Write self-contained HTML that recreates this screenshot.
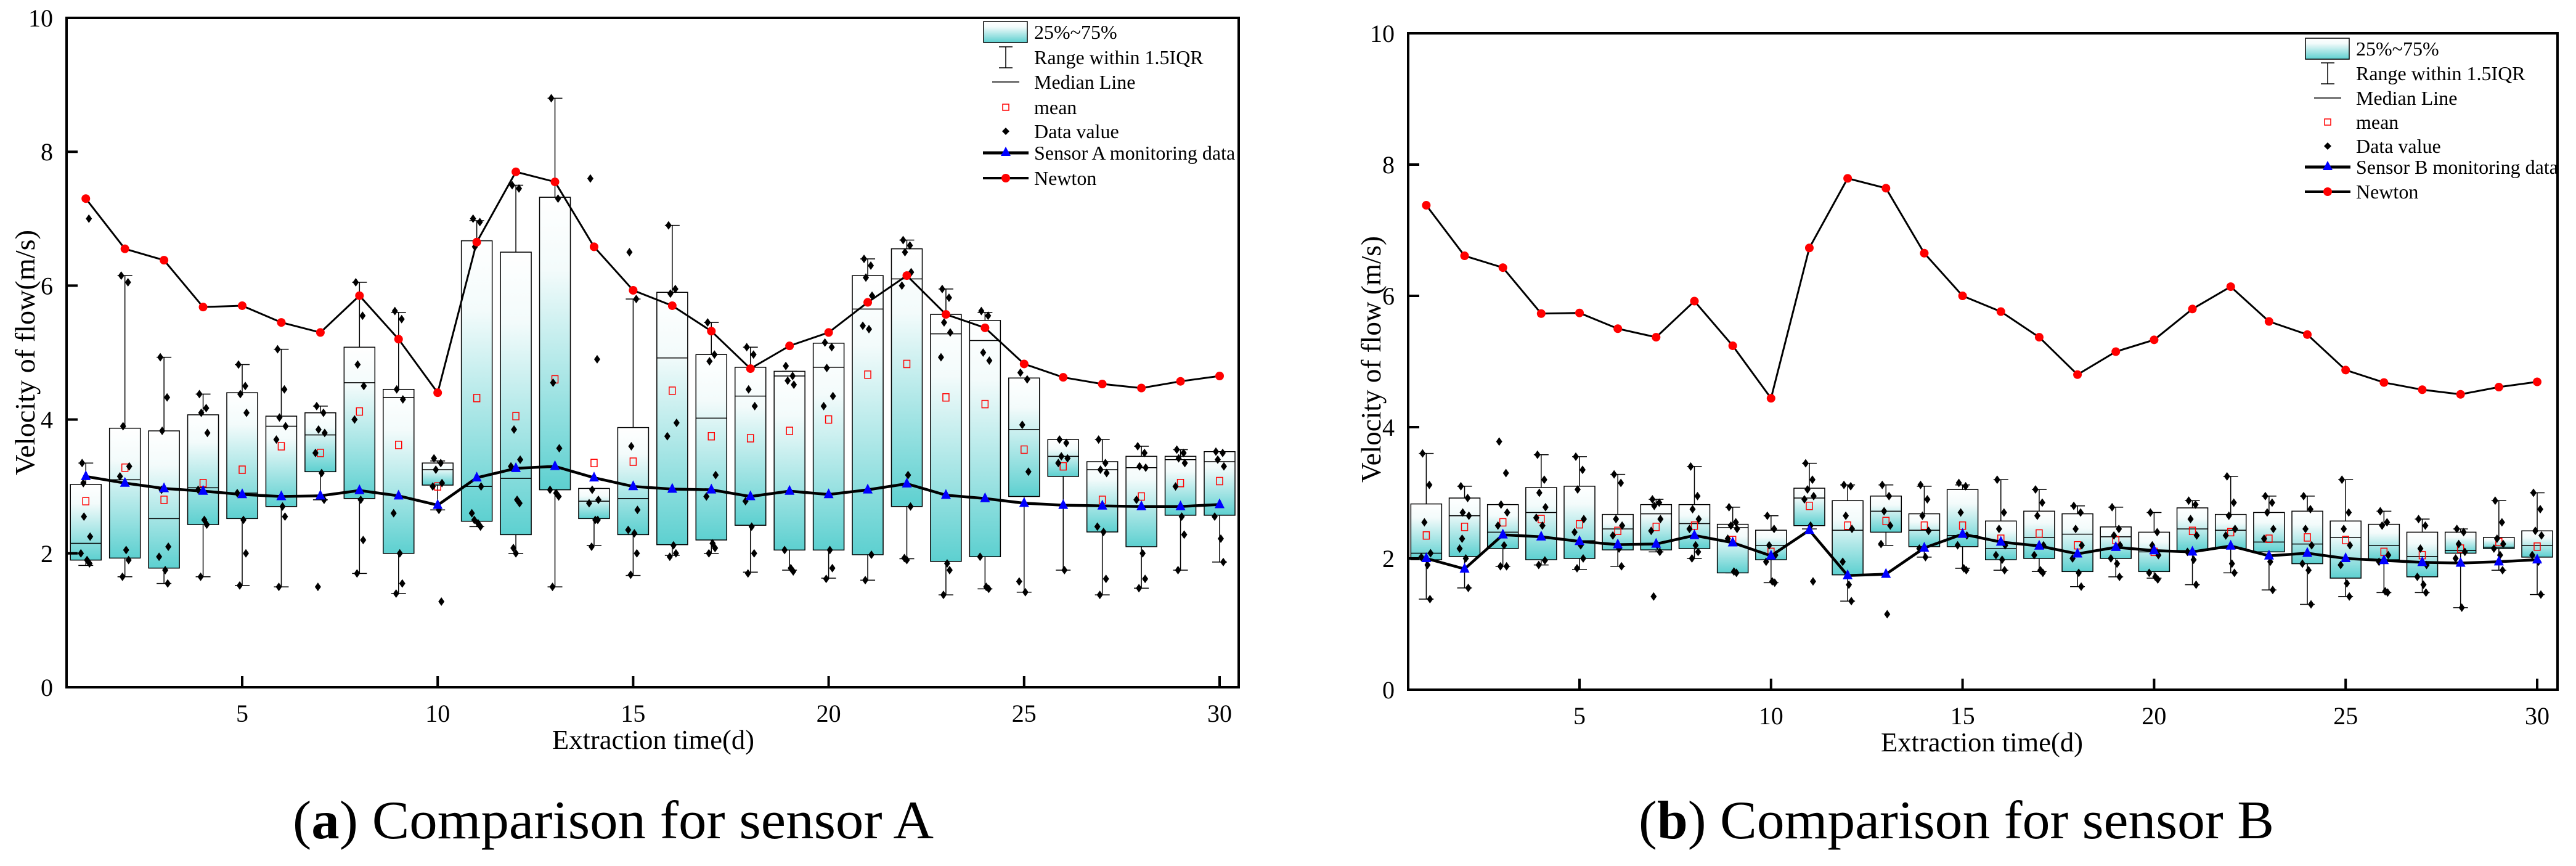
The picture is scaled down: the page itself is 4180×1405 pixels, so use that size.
<!DOCTYPE html>
<html><head><meta charset="utf-8"><style>
html,body{margin:0;padding:0;background:#fff}
svg{display:block}
text{font-family:"Liberation Serif",serif;fill:#000}
</style></head><body>
<svg id="fig" width="4180" height="1405" viewBox="0 0 4180 1405" xmlns="http://www.w3.org/2000/svg">
<defs>
<linearGradient id="boxGrad" x1="0" y1="0" x2="0" y2="1">
<stop offset="0" stop-color="#ffffff"/><stop offset="0.25" stop-color="#f3fbfb"/><stop offset="1" stop-color="#5dd0d0"/>
</linearGradient>
</defs>
</svg>
<script>
// ---- data: sensor A ----
const days = [1,2,3,4,5,6,7,8,9,10,11,12,13,14,15,16,17,18,19,20,21,22,23,24,25,26,27,28,29,30];
const xTicks = [5,10,15,20,25,30];
const yTicks = [0,2,4,6,8,10];
const newtonA = [7.3,6.55,6.38,5.68,5.7,5.45,5.3,5.85,5.2,4.4,6.65,7.7,7.55,6.58,5.93,5.7,5.32,4.76,5.1,5.3,5.75,6.15,5.57,5.37,4.83,4.63,4.53,4.47,4.57,4.65];
const sensorA = [3.15,3.05,2.97,2.93,2.88,2.85,2.86,2.94,2.86,2.72,3.13,3.27,3.3,3.13,3.0,2.96,2.95,2.85,2.93,2.88,2.95,3.04,2.87,2.82,2.75,2.72,2.71,2.70,2.70,2.73];
const q1A = [1.9,1.93,1.78,2.43,2.52,2.7,3.22,2.82,2.0,3.02,2.48,2.28,2.95,2.52,2.28,2.13,2.2,2.42,2.05,2.05,1.98,2.7,1.88,1.95,2.85,3.15,2.32,2.1,2.57,2.57];
const q3A = [3.03,3.87,3.83,4.07,4.4,4.05,4.1,5.08,4.45,3.35,6.67,6.5,7.32,2.97,3.88,5.9,4.97,4.78,4.72,5.14,6.15,6.55,5.57,5.48,4.62,3.7,3.37,3.45,3.45,3.52];
const medA = [2.15,3.1,2.52,2.98,2.9,3.9,3.77,4.55,4.33,3.25,3.0,3.12,7.32,2.78,2.82,4.92,4.02,4.35,4.65,4.78,5.65,6.1,5.28,5.18,3.85,3.45,3.25,3.28,3.4,3.37];
const meanA = [2.78,3.28,2.8,3.05,3.25,3.6,3.5,4.12,3.62,3.0,4.32,4.05,4.6,3.35,3.37,4.43,3.75,3.72,3.83,4.0,4.67,4.83,4.33,4.23,3.55,3.3,2.8,2.85,3.05,3.08];
const loA = [1.82,1.65,1.55,1.65,1.52,1.5,2.8,1.7,1.4,2.65,2.4,2.0,1.5,2.12,1.67,1.97,2.0,1.72,1.75,1.63,1.6,1.92,1.38,1.47,1.42,1.75,1.38,1.48,1.75,1.87];
const hiA = [3.35,6.15,4.93,4.38,4.82,5.05,4.2,6.05,5.6,3.38,6.97,7.5,8.8,2.97,5.8,6.9,5.45,5.08,4.72,5.14,6.4,6.68,5.95,5.6,4.62,3.7,3.7,3.6,3.55,3.52];
const dotsA = [
[3.35,7.0,2.55,2.25,2.0,1.9,1.85,3.05],[6.15,6.05,3.9,3.3,3.15,2.05,1.9,1.65],[4.93,4.33,3.83,2.1,1.95,1.75,1.55,2.95],
[4.38,4.17,4.1,3.8,2.95,2.5,2.43,1.65],[4.82,4.5,4.38,4.1,2.9,2.5,2.0,1.52],[5.05,4.45,4.03,3.9,3.7,2.7,2.55,1.5],
[4.2,4.1,3.85,3.8,3.5,3.2,2.8,1.5],[6.05,5.55,4.82,4.5,4.0,2.8,2.2,1.7],[5.62,5.5,4.45,4.3,2.6,2.0,1.55,1.4],
[3.42,3.35,3.25,3.05,3.0,2.65,1.28],[7.0,6.95,6.58,3.0,2.6,2.45,2.4,2.5],[7.5,7.45,3.85,3.4,3.3,2.8,2.75,2.08,2.0],
[8.8,7.3,4.55,3.57,2.95,2.9,2.85,1.5],[7.6,4.9,2.95,2.8,2.75,2.5,2.5,2.1],[6.5,5.8,3.6,2.65,2.35,2.3,2.0,1.68],
[6.9,5.95,5.88,3.95,3.75,2.12,2.0,1.95],[5.45,4.97,4.87,3.17,2.85,2.15,2.08,2.0],[5.08,4.97,4.45,4.2,2.78,2.4,2.0,1.7],
[4.8,4.65,4.58,4.52,2.05,1.78,1.73],[5.15,5.08,4.77,4.35,4.2,2.05,1.78,1.62],[6.4,6.3,6.12,5.85,5.4,5.35,1.98,1.6],
[6.68,6.6,6.5,6.2,6.0,3.17,2.7,1.93,1.9],[5.95,5.82,5.45,5.3,4.93,1.85,1.75,1.38],[5.62,5.55,5.0,4.88,1.95,1.5,1.47],
[4.7,4.6,3.92,3.22,1.58,1.42],[3.7,3.65,3.45,3.42,3.35,1.75],[3.7,3.35,3.25,3.2,2.4,2.32,1.62,1.38],
[3.6,3.5,3.3,3.28,2.8,2.0,1.62,1.48],[3.55,3.5,3.42,3.35,3.0,2.55,2.28,1.75],[3.52,3.5,3.4,3.3,2.55,2.22,1.87]];
// ---- data: sensor B ----
const newtonB = [7.38,6.61,6.43,5.73,5.74,5.5,5.37,5.92,5.24,4.44,6.73,7.79,7.64,6.65,6.0,5.76,5.37,4.8,5.15,5.33,5.8,6.14,5.61,5.41,4.87,4.68,4.57,4.5,4.61,4.69];
const sensorB = [2.0,1.84,2.36,2.33,2.26,2.21,2.22,2.35,2.24,2.04,2.43,1.74,1.76,2.16,2.37,2.25,2.19,2.07,2.17,2.12,2.1,2.19,2.04,2.08,2.0,1.97,1.94,1.93,1.95,1.98];
const q1B = [1.98,2.03,2.15,1.98,2.0,2.13,2.13,2.15,1.78,1.98,2.5,1.75,2.4,2.18,2.18,1.98,2.0,1.8,2.0,1.8,2.12,2.15,2.1,1.92,1.7,1.98,1.72,2.08,2.15,2.02];
const q3B = [2.83,2.92,2.82,3.08,3.1,2.67,2.82,2.82,2.52,2.43,3.07,2.88,2.95,2.68,3.05,2.57,2.72,2.68,2.48,2.4,2.77,2.67,2.7,2.72,2.57,2.52,2.4,2.4,2.32,2.42];
const medB = [2.08,2.65,2.4,2.7,2.27,2.45,2.68,2.53,2.47,2.2,2.92,2.43,2.72,2.43,2.35,2.15,2.32,2.37,2.33,2.1,2.45,2.43,2.25,2.22,2.32,2.2,2.03,2.12,2.17,2.2];
const meanB = [2.35,2.48,2.55,2.6,2.52,2.42,2.48,2.5,2.28,2.1,2.8,2.5,2.57,2.5,2.5,2.3,2.38,2.2,2.28,2.1,2.42,2.4,2.3,2.32,2.28,2.1,2.05,2.15,2.25,2.18];
const loB = [1.38,1.55,1.88,1.9,1.83,1.88,2.1,2.0,1.78,1.63,2.45,1.35,2.2,2.02,1.85,1.82,1.8,1.57,1.72,1.7,1.6,1.78,1.52,1.3,1.42,1.48,1.48,1.25,1.82,1.45];
const hiB = [3.6,3.1,2.82,3.58,3.55,3.28,2.9,3.4,2.78,2.65,3.45,3.12,3.12,3.1,3.12,3.2,3.05,2.8,2.78,2.7,2.88,3.25,2.95,2.95,3.2,2.72,2.6,2.45,2.88,3.0];
const dotsB = [
[3.6,3.12,2.55,2.08,2.02,1.9,1.38],[3.1,2.92,2.7,2.65,2.15,2.0,1.55,2.3],[3.78,3.3,2.82,2.7,2.5,2.2,1.88,1.88],
[3.58,3.2,3.0,2.78,2.62,2.5,1.97,1.9],[3.55,3.35,3.05,2.6,2.4,2.2,2.0,1.85],[3.28,3.15,2.6,2.5,2.35,2.15,1.88],
[2.9,2.85,2.8,2.6,2.42,2.2,2.1,1.42],[3.4,2.95,2.75,2.6,2.45,2.2,2.1,2.0],[2.78,2.55,2.5,2.45,2.3,1.8,1.78],
[2.65,2.45,2.2,2.05,1.95,1.65,1.63],[3.45,3.2,3.05,2.95,2.9,2.5,1.65],[3.12,3.1,2.65,2.45,1.95,1.6,1.35],
[3.12,2.95,2.72,2.5,2.22,1.15],[3.12,2.9,2.65,2.42,2.15,2.02],[3.15,3.1,2.7,2.35,2.2,1.85,1.82],
[3.2,2.7,2.45,2.2,2.05,1.98,1.82],[3.05,2.85,2.65,2.2,2.05,1.82,1.78],[2.8,2.7,2.45,2.2,2.0,1.78,1.57],
[2.78,2.45,2.35,2.2,2.0,1.92,1.72],[2.7,2.4,2.2,2.05,1.78,1.72,1.68],[2.88,2.82,2.6,2.35,2.1,1.98,1.6],
[3.25,2.85,2.65,2.45,2.35,1.92,1.78],[2.95,2.85,2.7,2.45,2.3,1.95,1.52],[2.95,2.75,2.45,2.2,1.92,1.82,1.3],
[3.2,2.7,2.45,2.2,1.9,1.62,1.42],[2.72,2.55,2.5,2.05,1.95,1.5,1.48],[2.6,2.5,2.15,1.9,1.72,1.6,1.48],
[2.45,2.4,2.22,2.1,2.0,1.25],[2.88,2.55,2.3,2.22,2.15,2.05,1.82],[3.0,2.75,2.42,2.35,2.05,1.95,1.45]];

const NS = 'http://www.w3.org/2000/svg';
const svg = document.getElementById('fig');
const jitter = [-6,5,-3,7,-8,2,6,-4,0];
function mk(tag, attrs, parent){
  const e = document.createElementNS(NS, tag);
  for (const k in attrs) e.setAttribute(k, attrs[k]);
  (parent||svg).appendChild(e);
  return e;
}

function drawChart(c){
  const g = mk('g', {});
  
  
  const xs = d => c.x5 + (d-5)*(c.x30-c.x5)/25;
  const ys = v => c.y0 - v*(c.y0-c.y10)/10;
  const bw = 50;
  // boxes
  days.forEach((d,i)=>{
    const x = xs(d);
    const bg = mk('g', {}, g);
    
    
    mk('line', {x1:x,x2:x,y1:ys(c.hi[i]),y2:ys(c.q3[i]),stroke:'#000','stroke-width':1.5}, bg);
    mk('line', {x1:x,x2:x,y1:ys(c.q1[i]),y2:ys(c.lo[i]),stroke:'#000','stroke-width':1.5}, bg);
    mk('line', {x1:x-12,x2:x+12,y1:ys(c.hi[i]),y2:ys(c.hi[i]),stroke:'#000','stroke-width':1.5}, bg);
    mk('line', {x1:x-12,x2:x+12,y1:ys(c.lo[i]),y2:ys(c.lo[i]),stroke:'#000','stroke-width':1.5}, bg);
    mk('rect', {x:x-bw/2,y:ys(c.q3[i]),width:bw,height:ys(c.q1[i])-ys(c.q3[i]),fill:'url(#boxGrad)',stroke:'#000','stroke-width':1.5}, bg);
    mk('line', {x1:x-bw/2,x2:x+bw/2,y1:ys(c.med[i]),y2:ys(c.med[i]),stroke:'#000','stroke-width':1.5}, bg);
    const m = mk('rect', {x:x-5,y:ys(c.mean[i])-6,width:10,height:12,fill:'none',stroke:'#f00','stroke-width':1.5}, bg);
    
    
    c.dots[i].forEach((v,j)=>{
      const dx = x + jitter[j % jitter.length], dy = ys(v);
      const p = mk('path', {d:`M${dx} ${dy-7}L${dx+5} ${dy}L${dx} ${dy+7}L${dx-5} ${dy}Z`,fill:'#000'}, bg);
      
      
    });
  });
  // sensor line
  const sp = c.sensor.map((v,i)=>`${xs(days[i])},${ys(v)}`).join(' ');
  const sl = mk('polyline', {points:sp,fill:'none',stroke:'#000','stroke-width':4.5}, g);
  
  
  c.sensor.forEach((v,i)=>{
    const x = xs(days[i]), y = ys(v);
    const t = mk('path', {d:`M${x} ${y-10}L${x+8} ${y+6}L${x-8} ${y+6}Z`,fill:'#0000ff'}, g);
    
    
  });
  // newton line
  const np = c.newton.map((v,i)=>`${xs(days[i])},${ys(v)}`).join(' ');
  const nl = mk('polyline', {points:np,fill:'none',stroke:'#000','stroke-width':3}, g);
  
  
  c.newton.forEach((v,i)=>{
    const e = mk('ellipse', {cx:xs(days[i]),cy:ys(v),rx:7,ry:7,fill:'#ff0000'}, g);
    
    
  });
  // frame
  const fr = mk('rect', {x:c.L,y:c.y10,width:c.R-c.L,height:c.y0-c.y10,fill:'none',stroke:'#000','stroke-width':4}, g);
  
  
  yTicks.forEach(v=>{
    mk('line', {x1:c.L,x2:c.L+18,y1:ys(v),y2:ys(v),stroke:'#000','stroke-width':4}, g);
    const t = mk('text', {x:c.L-22,y:ys(v)+14,'text-anchor':'end','font-size':40}, g);
    t.textContent = v;
    
    
  });
  xTicks.forEach(v=>{
    mk('line', {x1:xs(v),x2:xs(v),y1:c.y0,y2:c.y0-18,stroke:'#000','stroke-width':4}, g);
    const t = mk('text', {x:xs(v),y:c.y0+56,'text-anchor':'middle','font-size':40}, g);
    t.textContent = v;
    
    
  });
  const xt = mk('text', {x:c.xtX,y:c.y0+100,'text-anchor':'middle','font-size':44,textLength:328,lengthAdjust:'spacingAndGlyphs'}, g);
  xt.textContent = 'Extraction time(d)';
  
  
  const yt = mk('text', {x:0,y:0,'text-anchor':'middle','font-size':46,textLength:c.ytLen,lengthAdjust:'spacingAndGlyphs',transform:`translate(${c.ytX},${c.ytY}) rotate(-90)`}, g);
  yt.textContent = c.ytitle;
  
  
  // legend
  const lg = mk('g', {}, g);
  
  
  const lx = c.legX, r = c.legRows, sx = lx - 46;
  mk('rect', {x:sx-36,y:r[0]-17,width:71,height:34,fill:'url(#boxGrad)',stroke:'#000','stroke-width':1.5}, lg);
  mk('line', {x1:sx,x2:sx,y1:r[1]-17,y2:r[1]+17,stroke:'#000','stroke-width':1.5}, lg);
  mk('line', {x1:sx-11,x2:sx+11,y1:r[1]-17,y2:r[1]-17,stroke:'#000','stroke-width':1.5}, lg);
  mk('line', {x1:sx-11,x2:sx+11,y1:r[1]+17,y2:r[1]+17,stroke:'#000','stroke-width':1.5}, lg);
  mk('line', {x1:sx-22,x2:sx+22,y1:r[2],y2:r[2],stroke:'#000','stroke-width':1.5}, lg);
  mk('rect', {x:sx-5,y:r[3]-5,width:10,height:10,fill:'none',stroke:'#f00','stroke-width':1.5}, lg);
  mk('path', {d:`M${sx} ${r[4]-6}L${sx+6} ${r[4]}L${sx} ${r[4]+6}L${sx-6} ${r[4]}Z`,fill:'#000'}, lg);
  mk('line', {x1:sx-37,x2:sx+37,y1:r[5],y2:r[5],stroke:'#000','stroke-width':5}, lg);
  mk('path', {d:`M${sx} ${r[5]-10}L${sx+8} ${r[5]+5}L${sx-8} ${r[5]+5}Z`,fill:'#0000ff'}, lg);
  mk('line', {x1:sx-37,x2:sx+37,y1:r[6],y2:r[6],stroke:'#000','stroke-width':4}, lg);
  mk('circle', {cx:sx,cy:r[6],r:7,fill:'#f00'}, lg);
  const labels = ['25%~75%','Range within 1.5IQR','Median Line','mean','Data value',c.sensorLabel,'Newton'];
  labels.forEach((s,i)=>{
    const t = mk('text', {x:lx,y:r[i]+11,'font-size':32}, lg);
    t.textContent = s;
    
    
  });
  // caption
  const cap = mk('text', {x:c.capX,y:1360,'font-size':88,textLength:c.capLen,lengthAdjust:'spacingAndGlyphs'}, g);
  
  
  const t1 = mk('tspan', {}, cap); t1.textContent = '(';
  const t2 = mk('tspan', {'font-weight':'bold'}, cap); t2.textContent = c.letter;
  const t3 = mk('tspan', {}, cap); t3.textContent = ') Comparison for sensor ' + c.sensorName;
}

drawChart({key:'sensor-a',L:108,R:2010,y0:1115,y10:29,x5:393,x30:1979,
  newton:newtonA,sensor:sensorA,q1:q1A,q3:q3A,med:medA,mean:meanA,lo:loA,hi:hiA,dots:dotsA,
  xtX:1060,ytX:56,ytY:572,ytLen:398,ytitle:'Velocity of flow(m/s)',
  legX:1678,legRows:[52,93,133,174,213,248,289],sensorLabel:'Sensor A monitoring data',
  capX:475,capLen:1040,letter:'a',sensorName:'A'});
drawChart({key:'sensor-b',L:2285,R:4150,y0:1119,y10:54,x5:2563,x30:4117,
  newton:newtonB,sensor:sensorB,q1:q1B,q3:q3B,med:medB,mean:meanB,lo:loB,hi:hiB,dots:dotsB,
  xtX:3216,ytX:2240,ytY:583,ytLen:400,ytitle:'Velocity of flow (m/s)',
  legX:3823,legRows:[79,119,159,198,237,271,311],sensorLabel:'Sensor B monitoring data',
  capX:2659,capLen:1031,letter:'b',sensorName:'B'});
</script>
</body></html>
